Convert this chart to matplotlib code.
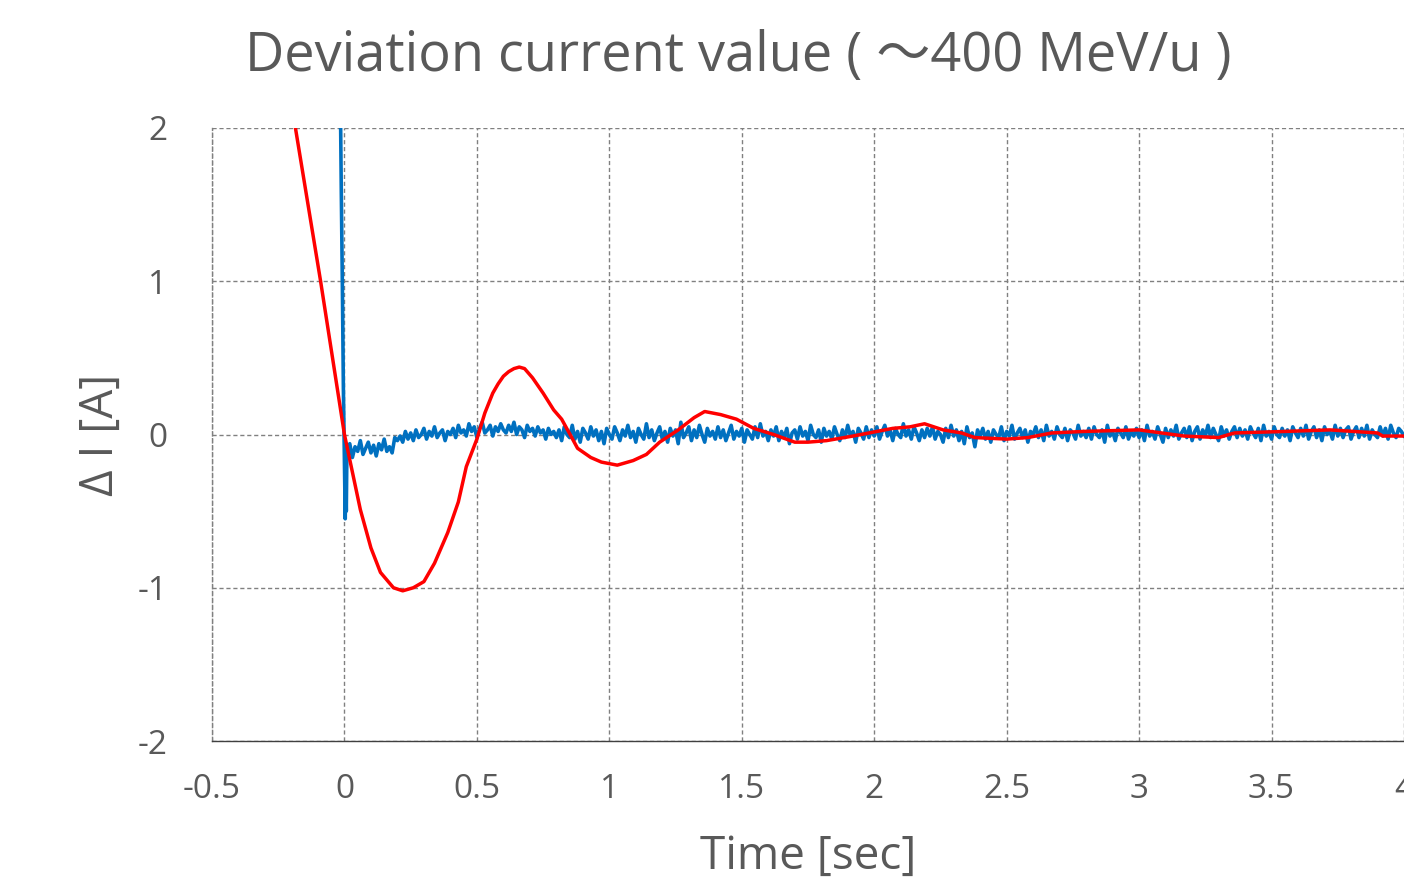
import matplotlib
matplotlib.use("Agg")
import matplotlib.pyplot as plt
import numpy as np

plt.rcParams['font.family'] = ['Open Sans', 'Noto Sans CJK JP', 'DejaVu Sans']
plt.rcParams['axes.unicode_minus'] = False

# red curve
red_t = [-0.21, -0.185, -0.09, 0.0, 0.06, 0.10, 0.136, 0.185, 0.22, 0.26, 0.30, 0.34,
         0.39, 0.43, 0.46, 0.50, 0.53, 0.56, 0.58, 0.60, 0.62, 0.64, 0.66, 0.68, 0.71, 0.75, 0.79,
         0.82, 0.855, 0.88, 0.93, 0.97, 1.0, 1.03, 1.05, 1.09, 1.14, 1.19, 1.26,
         1.32, 1.36, 1.42, 1.48, 1.545, 1.62, 1.70, 1.75, 1.82, 1.92, 2.01, 2.07,
         2.135, 2.19, 2.26, 2.33, 2.38, 2.50, 2.58, 2.67, 2.79, 3.0, 3.17, 3.30,
         3.36, 3.55, 3.72, 3.90, 3.92, 4.0]
red_i = [2.25, 2.0, 1.0, 0.0, -0.49, -0.74, -0.90, -1.0, -1.02, -1.0, -0.96, -0.84,
         -0.64, -0.44, -0.21, -0.03, 0.14, 0.27, 0.33, 0.38, 0.41, 0.43, 0.44, 0.43, 0.37, 0.27, 0.16,
         0.10, -0.01, -0.09, -0.15, -0.18, -0.19, -0.20, -0.19, -0.17, -0.13, -0.05, 0.03,
         0.11, 0.15, 0.13, 0.10, 0.04, 0.0, -0.05, -0.05, -0.04, -0.01, 0.02, 0.04,
         0.05, 0.07, 0.03, 0.01, -0.02, -0.03, -0.02, 0.01, 0.02, 0.03, -0.01, -0.02,
         0.01, 0.02, 0.03, 0.01, -0.01, -0.01]

# blue trace: spike around t=0, then samples every 0.01 s from 0.01 to 4.00
blue_head_t = [-0.016, -0.012, -0.008, -0.004, 0.0, 0.003, 0.005, 0.007, 0.009]
blue_head_i = [2.3, 1.6, 1.0, 0.3, -0.2, -0.55, -0.3, -0.5, -0.15]
blue_i = [
    -0.12, -0.06, -0.15, -0.08, -0.11, -0.04, -0.13, -0.09, -0.05, -0.12, -0.07, -0.14, -0.06, -0.10, -0.03, -0.11, -0.08, -0.12, -0.02, -0.04,
    -0.01, -0.05, 0.02, -0.03, 0.01, -0.04, 0.03, -0.02, 0.00, 0.04, -0.03, 0.02, -0.01, 0.05, -0.02, 0.01, 0.03, -0.04, 0.02, 0.00,
    0.04, -0.02, 0.06, 0.01, 0.03, -0.01, 0.07, 0.02, 0.05, -0.02, 0.04, 0.08, 0.01, 0.03, 0.06, -0.01, 0.05, 0.02, 0.07, 0.03,
    0.01, 0.06, 0.02, 0.08, 0.00, 0.05, 0.03, -0.02, 0.06, 0.02, 0.04, -0.01, 0.05, 0.01, 0.03, -0.03, 0.04, 0.00, 0.02, -0.02,
    0.03, -0.04, 0.05, 0.00, -0.02, 0.06, -0.03, 0.02, -0.05, 0.04, 0.01, -0.03, 0.05, -0.01, 0.03, -0.04, 0.02, -0.06, 0.04, 0.00,
    -0.03, 0.05, 0.01, -0.04, 0.03, -0.01, 0.06, -0.02, 0.02, -0.05, 0.04, 0.00, -0.03, 0.07, -0.02, 0.03, -0.04, 0.01, 0.05, -0.03,
    0.02, -0.05, 0.04, -0.01, 0.03, -0.06, 0.08, -0.02, 0.01, 0.05, -0.04, 0.03, -0.02, 0.06, 0.00, -0.05, 0.04, -0.01, 0.02, -0.03,
    0.05, -0.02, 0.03, -0.04, 0.01, 0.06, -0.03, 0.02, -0.01, 0.04, -0.05, 0.03, 0.00, -0.03, 0.05, -0.02, 0.07, -0.01, 0.02, -0.04,
    0.03, -0.01, 0.05, -0.04, 0.02, -0.02, 0.04, -0.06, 0.01, 0.03, -0.03, 0.05, -0.01, 0.02, -0.04, 0.06, 0.00, -0.02, 0.03, -0.05,
    0.04, -0.01, 0.02, -0.03, 0.05, 0.00, -0.04, 0.03, -0.02, 0.06, -0.01, 0.02, -0.05, 0.04, 0.01, -0.03, 0.05, -0.02, 0.03, -0.01,
    0.05, -0.03, 0.02, 0.06, -0.01, 0.03, -0.04, 0.04, 0.00, -0.02, 0.07, -0.01, 0.03, -0.03, 0.05, 0.01, -0.04, 0.03, -0.02, 0.04,
    -0.01, 0.05, -0.03, 0.02, 0.00, -0.05, 0.04, -0.02, 0.06, -0.01, 0.03, -0.04, 0.02, -0.06, 0.05, -0.02, 0.01, -0.08, 0.03, -0.01,
    0.04, -0.03, 0.02, -0.05, 0.03, 0.00, -0.02, 0.05, -0.04, 0.02, -0.01, 0.06, -0.03, 0.01, 0.04, -0.02, 0.03, -0.05, 0.02, 0.00,
    0.05, -0.02, 0.03, -0.04, 0.06, -0.01, 0.02, -0.03, 0.05, 0.00, -0.02, 0.04, -0.04, 0.03, 0.01, -0.03, 0.06, -0.01, 0.02, -0.02,
    0.04, -0.03, 0.05, 0.00, -0.02, 0.03, -0.05, 0.06, -0.01, 0.02, -0.04, 0.04, 0.01, -0.02, 0.05, -0.03, 0.02, -0.01, 0.04, -0.02,
    0.03, -0.04, 0.06, -0.01, 0.02, -0.03, 0.05, 0.00, -0.05, 0.04, -0.02, 0.03, -0.01, 0.06, -0.03, 0.01, 0.04, -0.02, 0.05, -0.04,
    0.02, 0.05, -0.03, 0.03, -0.01, 0.06, -0.02, 0.04, 0.00, -0.04, 0.05, -0.01, 0.03, -0.03, 0.02, 0.05, -0.02, 0.04, -0.01, 0.03,
    -0.03, 0.05, 0.01, -0.02, 0.04, -0.04, 0.06, -0.01, 0.02, -0.03, 0.05, 0.00, -0.02, 0.04, -0.01, 0.03, -0.04, 0.05, 0.01, -0.02,
    0.04, -0.01, 0.06, -0.03, 0.02, 0.05, -0.02, 0.03, -0.04, 0.05, 0.00, 0.02, -0.03, 0.06, -0.01, 0.04, -0.02, 0.03, 0.05, -0.03,
    0.02, 0.05, -0.02, 0.04, -0.01, 0.06, -0.03, 0.03, 0.00, -0.02, 0.05, -0.01, 0.04, -0.03, 0.06, 0.01, -0.02, 0.04, 0.02, -0.01,
]
blue_t = blue_head_t + [round(0.01 * (k + 1), 2) for k in range(len(blue_i))]
blue_all = blue_head_i + blue_i

xticks = [-0.5, 0, 0.5, 1, 1.5, 2, 2.5, 3, 3.5, 4]
xtick_labels = ['-0.5', '0', '0.5', '1', '1.5', '2', '2.5', '3', '3.5', '4']
yticks = [-2, -1, 0, 1, 2]

gray = '#595959'

fig = plt.figure(figsize=(14.04, 8.77), dpi=100)
ax = fig.add_axes([212 / 1404, 1 - 741 / 877, 1 - 212 / 1404, (741 - 128) / 877])

ax.plot(blue_t, blue_all, color='#0070C0', linewidth=2.6, zorder=3)
ax.plot(red_t, red_i, color='#FF0000', linewidth=2.5, zorder=4)

ax.set_xlim(-0.5, 4)
ax.set_ylim(-2, 2)
ax.set_xticks(xticks)
ax.set_xticklabels(xtick_labels)
ax.set_yticks(yticks)
ax.grid(True, color='#808080', linestyle=(0, (3, 2)), linewidth=1.0)
ax.tick_params(length=0, labelsize=24, labelcolor=gray)
ax.tick_params(axis='x', pad=23)
ax.tick_params(axis='y', pad=32)

for s in ['top', 'right']:
    ax.spines[s].set_visible(False)
ax.spines['left'].set_color('#808080')
ax.spines['left'].set_linestyle((0, (3, 2)))
ax.spines['left'].set_linewidth(1.0)
ax.spines['bottom'].set_color('#404040')
ax.spines['bottom'].set_linewidth(1.0)

ax.set_xlabel('Time [sec]', fontsize=33, color=gray, labelpad=20)
ax.set_ylabel('Δ I [A]', fontsize=33, color=gray, labelpad=10)

fig.text(738 / 1404, 1 - 57 / 877, 'Deviation current value ( ～400 MeV/u )',
         fontsize=39, color=gray, ha='center', va='center')

fig.savefig('out.png', dpi=100)
